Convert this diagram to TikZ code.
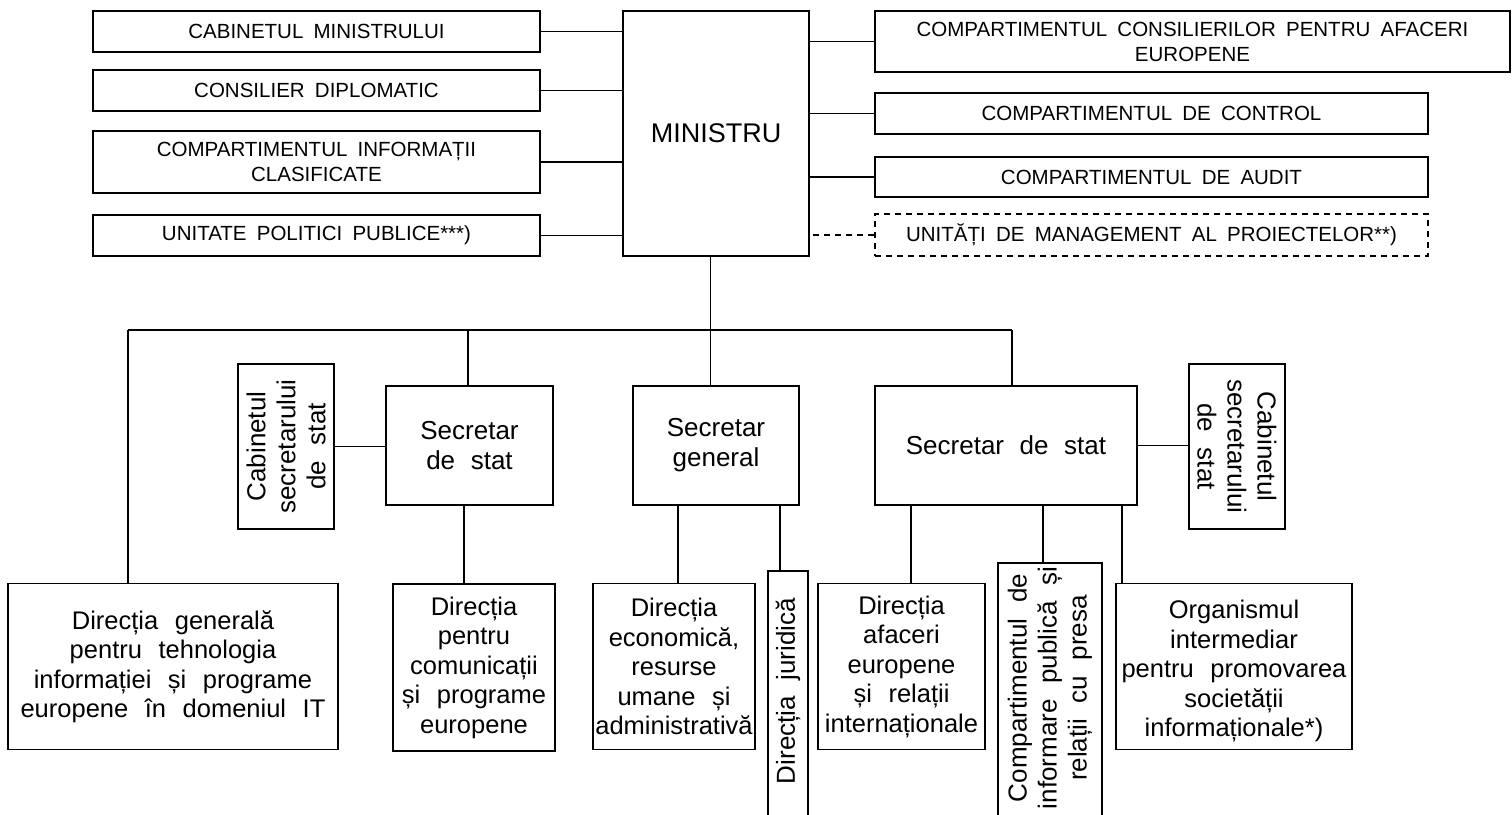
\documentclass[tikz,border=0pt]{standalone}
\usepackage{fontspec}
\setmainfont{Liberation Sans}
\newcommand\topfont{\fontsize{20.5}{25}\selectfont\spaceskip=0.5em plus 0.1em\relax}
\newcommand\minfont{\fontsize{27}{32}\selectfont}
\newcommand\secfont{\fontsize{26}{30}\selectfont\spaceskip=0.6em plus 0.1em\relax}
\newcommand\botfont{\fontsize{25.5}{29.5}\selectfont\spaceskip=0.65em plus 0.1em\relax}
\tikzset{
  box/.style={draw, line width=1.8pt, inner sep=0pt, align=center},
  conn/.style={line width=1.7pt},
  dsh/.style={dash pattern=on 6pt off 5pt},
  rottxt/.style={inner sep=0pt, align=center, font=\secfont},
}
\begin{document}
\begin{tikzpicture}[x=1pt,y=-1pt]
\useasboundingbox (0,0) rectangle (1512,814);
\fill[white] (0,0) rectangle (1512,814);
\clip (0,0) rectangle (1512,814);

% ---- top left boxes
\node[box, minimum width=447, minimum height=41, font=\topfont] (cab) at (316.5,31.5) {CABINETUL MINISTRULUI};
\node[box, minimum width=447, minimum height=41, font=\topfont] (dip) at (316.5,90.5) {CONSILIER DIPLOMATIC};
\node[box, minimum width=447, minimum height=62, font=\topfont] (inf) at (316.5,162) {COMPARTIMENTUL INFORMAȚII\\CLASIFICATE};
\node[box, minimum width=447, minimum height=41, font=\topfont] (upp) at (316.5,235.5) {UNITATE POLITICI PUBLICE***)};

% ---- minister
\node[box, minimum width=186, minimum height=245, font=\minfont] (min) at (716,133.5) {MINISTRU};

% ---- top right boxes
\node[box, minimum width=635, minimum height=61, font=\topfont] (r1) at (1192.5,41.5) {COMPARTIMENTUL CONSILIERILOR PENTRU AFACERI\\EUROPENE};
\node[box, minimum width=553, minimum height=41, font=\topfont] (r2) at (1151.5,113.5) {COMPARTIMENTUL DE CONTROL};
\node[box, minimum width=553, minimum height=40, font=\topfont] (r3) at (1151.5,177) {COMPARTIMENTUL DE AUDIT};
\node[box, dsh, minimum width=553, minimum height=42, font=\topfont] (r4) at (1151.5,235) {UNITĂȚI DE MANAGEMENT AL PROIECTELOR**)};

% ---- connectors top
\draw[conn] (cab.east) -- (cab.east -| min.west);
\draw[conn] (dip.east) -- (dip.east -| min.west);
\draw[conn] (inf.east) -- (inf.east -| min.west);
\draw[conn] (upp.east) -- (upp.east -| min.west);
\draw[conn] (r1.west) -- (r1.west -| min.east);
\draw[conn] (r2.west) -- (r2.west -| min.east);
\draw[conn] (r3.west) -- (r3.west -| min.east);
\draw[conn, dsh] (r4.west) -- (r4.west -| min.east);

% ---- middle level
\node[box, minimum width=167, minimum height=119, font=\secfont] (sl) at (469.5,445.5) {Secretar\\de stat};
\node[box, minimum width=166, minimum height=119, font=\secfont] (sg) at (716,445.5) {Secretar\\general};
\node[box, minimum width=262, minimum height=119, font=\secfont] (sr) at (1006,445.5) {Secretar de stat};
\node[box, minimum width=96, minimum height=165] (cl) at (286,446.5) {};
\node[rottxt, rotate=90] (clt) at (cl.center) {Cabinetul\\secretarului\\de stat};
\node[box, minimum width=96, minimum height=165] (cr) at (1237,446.5) {};
\node[rottxt, rotate=-90] (crt) at (cr.center) {Cabinetul\\secretarului\\de stat};

% ---- bottom level
\node[box, minimum width=330, minimum height=166, font=\botfont] (dg) at (173,666.5) {Direcția generală\\pentru tehnologia\\informației și programe\\europene în domeniul IT};
\node[box, minimum width=162, minimum height=167, font=\botfont] (dp) at (474,667.5) {Direcția\\pentru\\comunicații\\și programe\\europene};
\node[box, minimum width=162, minimum height=166, font=\botfont] (de) at (674,666.5) {Direcția\\economică,\\resurse\\umane și\\administrativă};
\node[box, minimum width=40, minimum height=270] (dj) at (788,706) {};
\node[rottxt, rotate=90] (djt) at (788,691) {Direcția juridică};
\node[box, minimum width=167, minimum height=166, font=\botfont] (da) at (901.5,666.5) {Direcția\\afaceri\\europene\\și relații\\internaționale};
\node[box, minimum width=104, minimum height=277] (cip) at (1050,701.5) {};
\node[rottxt, rotate=90] (cipt) at (1050,688) {Compartimentul de\\informare publică și\\relații cu presa};
\node[box, minimum width=236, minimum height=166] (org) at (1234,666.5) {};
\node[inner sep=0pt, align=center, font=\botfont] (orgt) at (1234,671) {Organismul\\intermediar\\pentru promovarea\\societății\\informaționale*)};

% ---- bus and vertical connectors
\coordinate (busL) at (128,330);
\coordinate (busR) at (1012,330);
\draw[conn] (busL) -- (busR);
\draw[conn] ([xshift=-5.5pt]min.south) -- ([xshift=-5.5pt]min.south |- sg.north);
\draw[conn] (busL) -- (busL |- dg.north);
\draw[conn] ([xshift=-1.5pt]sl.north) -- ([xshift=-1.5pt]sl.north |- busL);
\draw[conn] (busR) -- (busR |- sr.north);
\draw[conn] (cl.east) -- (cl.east -| sl.west);
\draw[conn] (sr.east) -- (sr.east -| cr.west);

\draw[conn] ([xshift=-5.5pt]sl.south) -- ([xshift=-5.5pt]sl.south |- dp.north);
\draw[conn] ([xshift=-38pt]sg.south) -- ([xshift=-38pt]sg.south |- de.north);
\draw[conn] ([xshift=64pt]sg.south) -- ([xshift=64pt]sg.south |- dj.north);
\draw[conn] ([xshift=-95pt]sr.south) -- ([xshift=-95pt]sr.south |- da.north);
\draw[conn] ([xshift=37pt]sr.south) -- ([xshift=37pt]sr.south |- cip.north);
\draw[conn] ([xshift=116pt]sr.south) -- ([xshift=116pt]sr.south |- org.north);
\end{tikzpicture}
\end{document}
